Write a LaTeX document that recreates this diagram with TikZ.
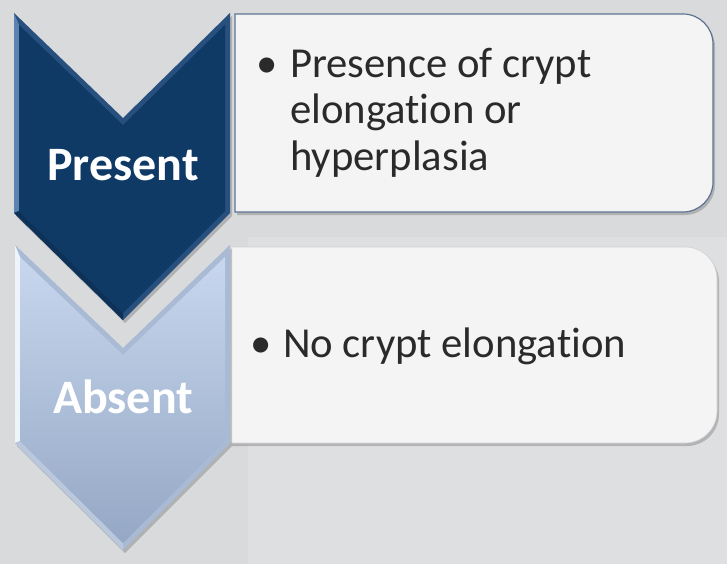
\documentclass[tikz,border=0pt]{standalone}
\usepackage{fontspec}
\setmainfont{Carlito}[Ligatures=NoCommon]
\usetikzlibrary{shadows}
\definecolor{bgcol}{HTML}{D9DADC}
\definecolor{bgcol2}{HTML}{DEDFE1}
\definecolor{navy}{HTML}{0F3A66}
\definecolor{navyedge}{HTML}{27507F}
\definecolor{navylight}{HTML}{5B83B0}
\definecolor{ltop}{HTML}{C8D7EE}
\definecolor{lbot}{HTML}{94A7C4}
\definecolor{ledge}{HTML}{A9BAD5}
\definecolor{lwhite}{HTML}{EEF4FC}
\definecolor{boxfill}{HTML}{F4F4F5}
\definecolor{boxline}{HTML}{5D7391}
\definecolor{txt}{HTML}{2A2A2A}
\tikzset{
  chevlabel/.style={text=white, font=\fontsize{48}{50}\selectfont\bfseries, inner sep=0pt},
  bullettext/.style={text=txt, font=\fontsize{42.7}{46}\selectfont, align=left, inner sep=0pt, anchor=base west},
  softshadow/.style={drop shadow={shadow xshift=2pt, shadow yshift=-3pt, opacity=0.35, fill=black!60}},
}
\begin{document}
\begin{tikzpicture}[x=1pt,y=-1pt]
\useasboundingbox (0,0) rectangle (727,564);
\fill[bgcol] (0,0) rectangle (727,564);
\fill[bgcol2] (248,237) rectangle (727,564);

% ---- right boxes ----
\path[fill=boxfill, draw=boxline, line width=1.2pt, softshadow]
  (235,14) -- (683,14) arc[start angle=90, end angle=0, radius=30pt]
  -- (713,182) arc[start angle=0, end angle=-90, radius=30pt]
  -- (235,212) -- cycle;
\path[fill=boxfill, draw=black!18, line width=0.6pt, softshadow]
  (230,247) -- (685,247) arc[start angle=90, end angle=0, radius=32pt]
  -- (717,411) arc[start angle=0, end angle=-90, radius=32pt]
  -- (230,443) -- cycle;

% ---- chevron 1 (dark) ----
\path[fill=navyedge, softshadow]
  (14,13) -- (123,118) -- (230,13) -- (230,213) -- (123,320) -- (14,213) -- cycle;
\fill[navylight] (14,13) -- (19,25) -- (19,211) -- (14,213) -- cycle;
\fill[navy!85!black] (14,213) -- (19,211) -- (123,313) -- (123,320) -- cycle;
\fill[navy] (19,25) -- (123,125) -- (225,25) -- (225,211) -- (123,313) -- (19,211) -- cycle;

% ---- chevron 2 (light) ----
\path[fill=ledge, softshadow]
  (15,245) -- (123,348) -- (230,245) -- (230,443) -- (123,550) -- (15,443) -- cycle;
\fill[lwhite] (15,245) -- (20,257) -- (20,441) -- (15,443) -- cycle;
\fill[ledge!80!white] (15,443) -- (20,441) -- (123,543) -- (123,550) -- cycle;
\shade[top color=ltop, bottom color=lbot]
  (20,257) -- (123,355) -- (225,257) -- (225,441) -- (123,543) -- (20,441) -- cycle;

% ---- labels ----
\node[chevlabel] (present) at (123,165) {Present};
\node[chevlabel] (absent) at (123,397) {Absent};

\node[bullettext] (txt1) at (290,170)
  {\llap{\textbullet\hspace{12pt}}Presence of crypt\\elongation or\\hyperplasia};
\node[bullettext] (txt2) at (283,357)
  {\llap{\textbullet\hspace{11pt}}No crypt elongation};
\end{tikzpicture}
\end{document}
